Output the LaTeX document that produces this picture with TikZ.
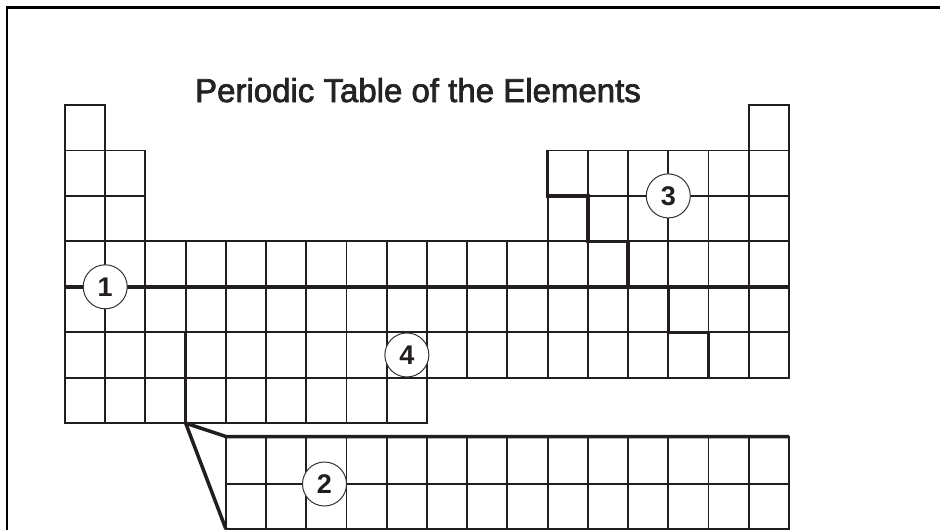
\documentclass[tikz,border=0pt]{standalone}
\usepackage{fontspec}
\setmainfont{Liberation Sans}
\newfontfamily\titlefont[FakeBold=2.2]{Liberation Sans}
\definecolor{gridc}{RGB}{34,30,31}
\definecolor{titlec}{RGB}{36,34,36}
\begin{document}
\begin{tikzpicture}[x=1pt,y=-1pt,
  declare function={X(\i)=65+\i*40.22; Y(\j)=105+\j*45.45;},
  cellbox/.style={draw=gridc, line width=1.9pt},
  heavy/.style={draw=gridc, line width=3.5pt, line join=miter},
  frameline/.style={draw=black, line width=2.2pt},
  marker/.style={circle, draw=black!80, line width=1pt, fill=white,
    minimum size=44pt, inner sep=0pt, text=gridc,
    font=\bfseries\fontsize{27}{27}\selectfont},
  titletext/.style={font=\titlefont\fontsize{33}{33}\selectfont, text=titlec,
    anchor=base, inner sep=0pt}]
\useasboundingbox (0,0) rectangle (940,530);

% frame
\draw[frameline] (6.7,531) -- (6.7,7.5) -- (941,7.5);

% title
\node[titletext] (title) at (418,102) {Periodic Table of the Elements};

% main table cells
\foreach \c in {1,18} {\draw[cellbox] ({X(\c-1)},{Y(0)}) rectangle ({X(\c)},{Y(1)});}
\foreach \r in {2,3} {
  \foreach \c in {1,2,13,14,15,16,17,18} {\draw[cellbox] ({X(\c-1)},{Y(\r-1)}) rectangle ({X(\c)},{Y(\r)});}
}
\foreach \r in {4,5,6} {
  \foreach \c in {1,...,18} {\draw[cellbox] ({X(\c-1)},{Y(\r-1)}) rectangle ({X(\c)},{Y(\r)});}
}
\foreach \c in {1,...,9} {\draw[cellbox] ({X(\c-1)},{Y(6)}) rectangle ({X(\c)},{Y(7)});}

% lanthanide / actinide block
\foreach \c in {5,...,18} {
  \draw[cellbox] ({X(\c-1)},436.5) rectangle ({X(\c)},484);
  \draw[cellbox] ({X(\c-1)},484) rectangle ({X(\c)},529);
}

% key points
\coordinate (split) at ({X(3)},{Y(7)});
\coordinate (ftop) at ({X(4)},436.5);
\coordinate (fbot) at ({X(4)},529);
\coordinate (fright) at ({X(18)},436.5);

% heavy lines
\draw[heavy] ({X(0)},{Y(4)}) -- ({X(18)},{Y(4)});
\draw[heavy] ({X(12)},{Y(1)}) -- ({X(12)},{Y(2)}) -- ({X(13)},{Y(2)})
  -- ({X(13)},{Y(3)}) -- ({X(14)},{Y(3)}) -- ({X(14)},{Y(4)})
  -- ({X(15)},{Y(4)}) -- ({X(15)},{Y(5)}) -- ({X(16)},{Y(5)}) -- ({X(16)},{Y(6)});
\draw[heavy] ({X(3)},{Y(5)}) -- (split);
\draw[heavy] (split) -- (ftop) -- (fright);
\draw[heavy] (split) -- (fbot);

% numbered markers
\node[marker] (m1) at ({X(1)},{Y(4)}) {1};
\node[marker] (m2) at (324.5,484) {2};
\node[marker] (m3) at ({X(15)},{Y(2)}) {3};
\node[marker] (m4) at ({(X(8)+X(9))/2},{(Y(5)+Y(6))/2}) {4};
\end{tikzpicture}
\end{document}
